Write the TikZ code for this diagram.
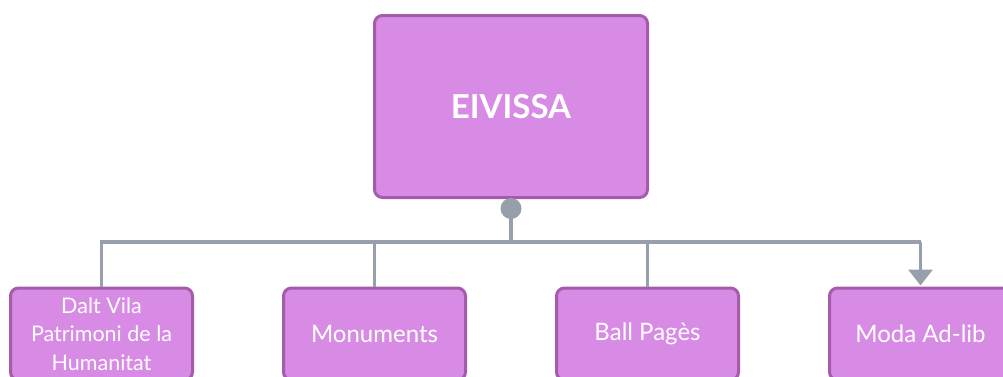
\documentclass[tikz,border=0pt]{standalone}
\usepackage{fontspec}
\setmainfont{Lato}
\usetikzlibrary{arrows.meta}
\definecolor{boxfill}{HTML}{D88BE5}
\definecolor{boxedge}{HTML}{A35BAA}
\definecolor{conn}{HTML}{97A0AA}
\tikzset{
  topic/.style={draw=boxedge, fill=boxfill, line width=3pt, rounded corners=8pt,
    text=white, align=center, inner sep=0pt},
  child/.style={topic, minimum width=182pt, minimum height=92pt, font=\fontsize{24}{28}\selectfont},
  conline/.style={draw=conn, line width=3.5pt},
}
\begin{document}
\begin{tikzpicture}[x=1pt,y=-1pt]
\useasboundingbox (0,0) rectangle (1003,376);
\clip (0,0) rectangle (1003,376);
\node[topic, minimum width=273pt, minimum height=182pt, font=\fontsize{33}{36}\selectfont\bfseries] (root) at (511,106.5) {EIVISSA};
\node[child, font=\fontsize{21.5}{28.5}\selectfont] (c1) at (101.5,334) {Dalt Vila\\Patrimoni de la\\Humanitat};
\node[child] (c2) at (374.5,334) {Monuments};
\node[child] (c3) at (647.5,334) {Ball Pagès};
\node[child] (c4) at (920.5,334) {Moda Ad-lib};
\coordinate (bus) at (511,242);
\draw[conline] (root.south) -- (bus);
\draw[conline] (c1.north) -- (c1.north |- bus) -- (c4.north |- bus);
\draw[conline] (c2.north) -- (c2.north |- bus);
\draw[conline] (c3.north) -- (c3.north |- bus);
\draw[conline, -{Triangle[length=16pt,width=24pt]}] (c4.north |- bus) -- ([yshift=1pt]c4.north);
\fill[conn] ([yshift=-9.5pt]root.south) circle (10.5pt);
\end{tikzpicture}
\end{document}
